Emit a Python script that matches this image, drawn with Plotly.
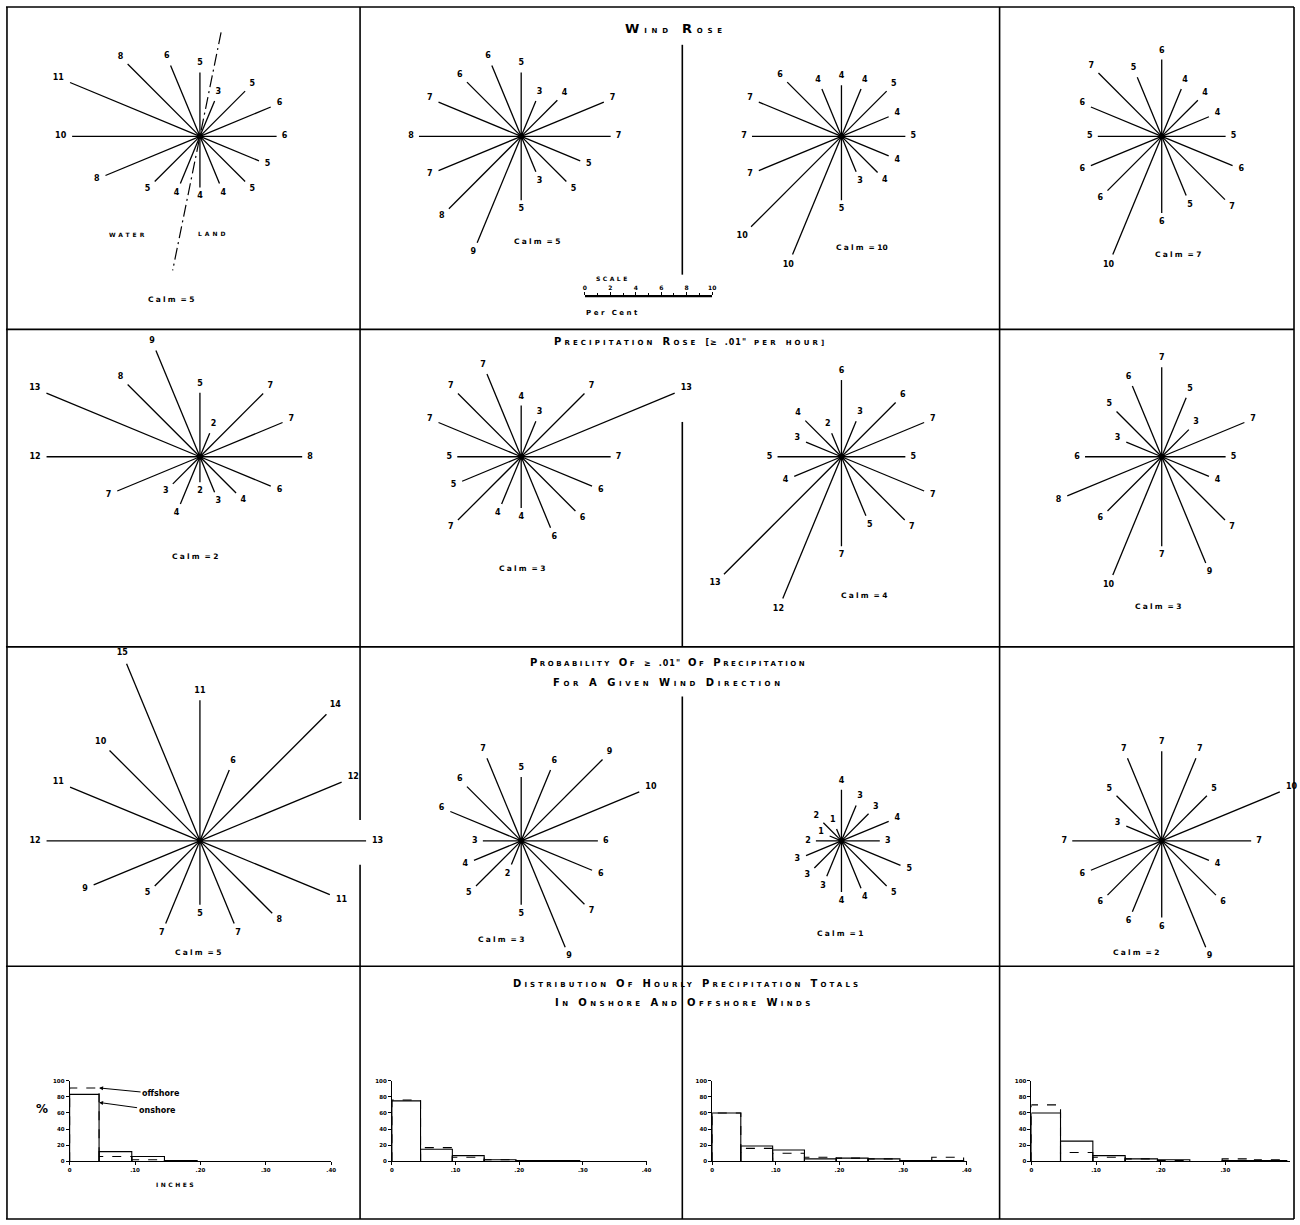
import math
import plotly.graph_objects as go

W, H = 1300, 1225
S = 12.85  # pixels per per cent on every rose

# ---------------- data ----------------
directions = ["N", "NNE", "NE", "ENE", "E", "ESE", "SE", "SSE",
              "S", "SSW", "SW", "WSW", "W", "WNW", "NW", "NNW"]
bearings = [22.5 * i for i in range(16)]

# Row 1: wind rose (per cent of hours)
wind_1 = [5, 3, 5, 6, 6, 5, 5, 4, 4, 4, 5, 8, 10, 11, 8, 6]
wind_2 = [5, 3, 4, 7, 7, 5, 5, 3, 5, 9, 8, 7, 8, 7, 6, 6]
wind_3 = [4, 4, 5, 4, 5, 4, 4, 3, 5, 10, 10, 7, 7, 7, 6, 4]
wind_4 = [6, 4, 4, 4, 5, 6, 7, 5, 6, 10, 6, 6, 5, 6, 7, 5]
wind_calm = [5, 5, 10, 7]

# Row 2: precipitation rose (>= .01" per hour)
precip_1 = [5, 2, 7, 7, 8, 6, 4, 3, 2, 4, 3, 7, 12, 13, 8, 9]
precip_2 = [4, 3, 7, 13, 7, 6, 6, 6, 4, 4, 7, 5, 5, 7, 7, 7]
precip_3 = [6, 3, 6, 7, 5, 7, 7, 5, 7, 12, 13, 4, 5, 3, 4, 2]
precip_4 = [7, 5, 3, 7, 5, 4, 7, 9, 7, 10, 6, 8, 6, 3, 5, 6]
precip_calm = [2, 3, 4, 3]

# Row 3: probability of >= .01" of precipitation for a given wind direction
prob_1 = [11, 6, 14, 12, 13, 11, 8, 7, 5, 7, 5, 9, 12, 11, 10, 15]
prob_2 = [5, 6, 9, 10, 6, 6, 7, 9, 5, 2, 5, 4, 3, 6, 6, 7]
prob_3 = [4, 3, 3, 4, 3, 5, 5, 4, 4, 3, 3, 3, 2, 1, 2, 1]
prob_4 = [7, 7, 5, 10, 7, 4, 6, 9, 6, 6, 6, 6, 7, 3, 5, 7]
prob_calm = [5, 3, 1, 2]

# Row 4: distribution of hourly precipitation totals (per cent)
hist_bins = [0.0, 0.045, 0.095, 0.145, 0.195, 0.245, 0.295, 0.345, 0.395]
onshore_1 = [83, 12, 6, 1, 0, 0, 0, 0]
offshore_1 = [91, 6, 2, 1, 0, 0, 0, 0]
onshore_2 = [75, 15, 7, 2, 1, 1, 0, 0]
offshore_2 = [76, 17, 5, 2, 1, 0, 0, 0]
onshore_3 = [60, 19, 14, 3, 4, 3, 1, 1]
offshore_3 = [60, 16, 10, 5, 4, 3, 0, 5]
onshore_4 = [60, 25, 7, 3, 2, 0, 1, 1]
offshore_4 = [70, 11, 5, 3, 1, 0, 3, 2]
hist_xticks = [0, 0.1, 0.2, 0.3, 0.4]
hist_xticktext = ["0", ".10", ".20", ".30", ".40"]
hist_yticks = [0, 20, 40, 60, 80, 100]

scale_ticks = [0, 2, 4, 6, 8, 10]

# coastline in the first wind rose (bearing, per-cent extent)
coast_bearings = [11.5, 191.5]
coast_extent = [8.3, 10.7]

# ---------------- layout geometry (pixels) ----------------
rose_cx = [199, 522, 844, 1166]
rose_cy = [134, 456, 842]
calm_px = [[(170, 298), (538, 240), (865, 246), (1183, 253)],
           [(195, 556), (523, 568), (867, 595), (1163, 606)],
           [(198, 954), (502, 941), (843, 935), (1141, 954)]]
hist_zero_px = [68, 392, 714, 1035]
hist_tenth_px = [65.75, 64.0, 64.0, 65.0]
hist_base_px, hist_top_px = 1164, 1083

FONT = "DejaVu Sans"
BLACK = "#000000"

fig = go.Figure()
layout_axes = {}
axis_count = [0]


def px2paper(x, y):
    return x / W, 1 - y / H


def new_axes(xdom, ydom, xr, yr):
    axis_count[0] += 1
    k = axis_count[0]
    sfx = "" if k == 1 else str(k)
    layout_axes["xaxis" + sfx] = dict(domain=xdom, range=xr, anchor="y" + sfx,
                                      visible=False, fixedrange=True)
    layout_axes["yaxis" + sfx] = dict(domain=ydom, range=yr, anchor="x" + sfx,
                                      visible=False, fixedrange=True)
    return "x" + sfx, "y" + sfx, sfx


def add_rose(cx, cy, values, coast=False):
    x0, x1 = max(0, cx - 240), min(W, cx + 240)
    y0, y1 = max(0, cy - 240), min(H, cy + 240)
    xa, ya, _ = new_axes([x0 / W, x1 / W], [1 - y1 / H, 1 - y0 / H],
                         [(x0 - cx) / S, (x1 - cx) / S], [(cy - y1) / S, (cy - y0) / S])
    lx, ly, tx, ty, tt = [], [], [], [], []
    for b, v in zip(bearings, values):
        sb, cb = math.sin(math.radians(b)), math.cos(math.radians(b))
        lx += [0, v * sb, None]
        ly += [0, v * cb, None]
        lab = str(v)
        hw = 3.5 if len(lab) == 1 else 7.0
        off = (4.5 + hw * abs(sb) + 4.5 * abs(cb)) / S
        tx.append((v + off) * sb)
        ty.append((v + off) * cb)
        tt.append(lab)
    fig.add_trace(go.Scatter(x=lx, y=ly, mode="lines", xaxis=xa, yaxis=ya,
                             line=dict(color=BLACK, width=1.3), hoverinfo="skip",
                             showlegend=False))
    fig.add_trace(go.Scatter(x=[0], y=[0], mode="markers", xaxis=xa, yaxis=ya,
                             marker=dict(color=BLACK, size=6), hoverinfo="skip",
                             showlegend=False))
    fig.add_trace(go.Scatter(x=tx, y=ty, mode="text", text=tt, xaxis=xa, yaxis=ya,
                             textfont=dict(family=FONT, size=8, color=BLACK, weight="bold"),
                             cliponaxis=False, hoverinfo="skip", showlegend=False))
    if coast:
        cx_ = [r * math.sin(math.radians(b)) for b, r in zip(coast_bearings, coast_extent)]
        cy_ = [r * math.cos(math.radians(b)) for b, r in zip(coast_bearings, coast_extent)]
        fig.add_trace(go.Scatter(x=cx_, y=cy_, mode="lines", xaxis=xa, yaxis=ya,
                                 line=dict(color=BLACK, width=1.2, dash="12px,4px,2px,4px"),
                                 hoverinfo="skip", showlegend=False))


rose_rows = [[wind_1, wind_2, wind_3, wind_4],
             [precip_1, precip_2, precip_3, precip_4],
             [prob_1, prob_2, prob_3, prob_4]]
calm_rows = [wind_calm, precip_calm, prob_calm]

annotations = []


def text_ann(x, y, text, size=8, bold=True, xanchor="center", **kw):
    px, py = px2paper(x, y)
    annotations.append(dict(x=px, y=py, xref="paper", yref="paper", text=text,
                            showarrow=False, xanchor=xanchor, yanchor="middle",
                            font=dict(family=FONT, size=size, color=BLACK,
                                      weight="bold" if bold else "normal"), **kw))


def spaced(s, ls):
    return '<span style="letter-spacing:%.1fpx">%s</span>' % (ls, s)


for r, row in enumerate(rose_rows):
    for c, vals in enumerate(row):
        add_rose(rose_cx[c], rose_cy[r], vals, coast=(r == 0 and c == 0))
        cxp, cyp = calm_px[r][c]
        text_ann(cxp, cyp, spaced("Calm", 2.2) + "\u00a0=\u00a0" + str(calm_rows[r][c]), size=7.5)

# ---------------- histograms ----------------
hist_data = [(onshore_1, offshore_1), (onshore_2, offshore_2),
             (onshore_3, offshore_3), (onshore_4, offshore_4)]
hist_axes = []
for i, (on, off) in enumerate(hist_data):
    x0 = hist_zero_px[i]
    x1 = x0 + 4 * hist_tenth_px[i]
    xa, ya, sfx = new_axes([x0 / W, x1 / W], [1 - hist_base_px / H, 1 - hist_top_px / H],
                           [0, 0.4], [0, 100])
    hist_axes.append((xa, ya))
    nt = 5 if i < 3 else 4
    layout_axes["xaxis" + sfx].update(
        visible=True, showline=True, linecolor=BLACK, linewidth=1, ticks="outside",
        ticklen=3, tickcolor=BLACK, tickvals=hist_xticks[:nt], ticktext=hist_xticktext[:nt],
        tickfont=dict(family=FONT, size=5.5, color=BLACK, weight="bold"), showgrid=False,
        zeroline=False)
    layout_axes["yaxis" + sfx].update(
        visible=True, showline=True, linecolor=BLACK, linewidth=1, ticks="outside",
        ticklen=3, tickcolor=BLACK, tickvals=hist_yticks,
        tickfont=dict(family=FONT, size=5.5, color=BLACK, weight="bold"), showgrid=False,
        zeroline=False)
    for series, dash in ((off, "dash"), (on, "solid")):
        bx, by = [], []
        for k, v in enumerate(series):
            if v <= 0:
                continue
            e0, e1 = hist_bins[k], hist_bins[k + 1]
            bx += [e0, e0, e1, e1, None]
            by += [0, v, v, 0, None]
        fig.add_trace(go.Scatter(x=bx, y=by, mode="lines", xaxis=xa, yaxis=ya,
                                 line=dict(color=BLACK, width=1.1, dash=dash),
                                 hoverinfo="skip", showlegend=False, cliponaxis=False))

# legend arrows in first histogram
xa1, ya1 = hist_axes[0]
annotations.append(dict(x=hist_bins[1], y=offshore_1[0], xref=xa1, yref=ya1,
                        text="offshore", showarrow=True, ax=62, ay=6, arrowhead=2,
                        arrowsize=0.8, arrowwidth=1, arrowcolor=BLACK, xanchor="center",
                        font=dict(family=FONT, size=8, color=BLACK, weight="bold")))
annotations.append(dict(x=hist_bins[1], y=onshore_1[0] - 10, xref=xa1, yref=ya1,
                        text="onshore", showarrow=True, ax=58, ay=8, arrowhead=2,
                        arrowsize=0.8, arrowwidth=1, arrowcolor=BLACK, xanchor="center",
                        font=dict(family=FONT, size=8, color=BLACK, weight="bold")))
text_ann(40, 1111, "%", size=12)
text_ann(175, 1187, spaced("INCHES", 2.5), size=6)

# ---------------- scale bar ----------------
xa, ya, sfx = new_axes([586 / W, 714 / W], [1 - 297 / H, 1 - 295 / H], [0, 10], [0, 1])
layout_axes["xaxis" + sfx].update(
    visible=True, side="top", showline=True, linecolor=BLACK, linewidth=1.2,
    ticks="outside", ticklen=3, tickcolor=BLACK, tickvals=scale_ticks,
    tickfont=dict(family=FONT, size=6, color=BLACK, weight="bold"), showgrid=False,
    zeroline=False, minor=dict(ticks="outside", tickvals=[1, 3, 5, 7, 9], ticklen=2,
                               tickcolor=BLACK))
fig.add_trace(go.Scatter(x=[0, 10], y=[1, 1], mode="lines", xaxis=xa, yaxis=ya,
                         line=dict(color=BLACK, width=1.2), hoverinfo="skip",
                         showlegend=False, cliponaxis=False))
text_ann(614, 277, spaced("SCALE", 2.5), size=6)
text_ann(614, 312, spaced("Per", 2.5) + "\u00a0\u00a0" + spaced("Cent", 2.5), size=7)

text_ann(127, 233, spaced("WATER", 3), size=6)
text_ann(212, 232, spaced("LAND", 3), size=6)


# ---------------- titles (small caps) ----------------
def small_caps(text, big, small, ls):
    parts = []
    for word in text.split(" "):
        if word[0].isalpha():
            first = word[0] if word[0].isupper() else ""
            rest = word[1:] if first else word
            s = ""
            if first:
                s += '<span style="font-size:%dpx;letter-spacing:%.1fpx">%s</span>' % (big, ls, first)
            if rest:
                s += '<span style="font-size:%dpx;letter-spacing:%.1fpx">%s</span>' % (small, ls, rest.upper())
        else:
            s = '<span style="font-size:%dpx;letter-spacing:1px">%s</span>' % (big - 2, word)
        parts.append(s)
    return "\u00a0\u00a0".join(parts)


titles = [("Wind Rose", 678, 26, 13, 7, 4.8),
          ("Precipitation Rose [\u2265 .01\" per hour]", 692, 340, 10, 7, 3.1),
          ("Probability Of \u2265 .01\" Of Precipitation", 670, 663, 10, 7, 2.5),
          ("For A Given Wind Direction", 670, 683, 10, 7, 3.6),
          ("Distribution Of Hourly Precipitation Totals", 689, 985, 10, 7, 3.1),
          ("In Onshore And Offshore Winds", 686, 1004, 10, 7, 3.4)]
for t, x, y, big, small, ls in titles:
    text_ann(x, y, small_caps(t, big, small, ls), size=big)

# ---------------- frame ----------------
frame_segments = [
    (4, 4, 1299, 4), (4, 1222, 1299, 1222), (5, 4, 5, 1222), (1299, 4, 1299, 1222),
    (4, 328, 1299, 328), (4, 647, 1299, 647), (4, 968, 1299, 968),
    (360, 4, 360, 647), (360, 647, 360, 821), (360, 866, 360, 968), (360, 968, 360, 1222),
    (1003, 4, 1003, 1222),
    (684, 42, 684, 273), (684, 421, 684, 647), (684, 697, 684, 968), (684, 968, 684, 1222),
]
shapes = []
for x0, y0, x1, y1 in frame_segments:
    a, b = px2paper(x0, y0)
    c, d = px2paper(x1, y1)
    shapes.append(dict(type="line", xref="paper", yref="paper", x0=a, y0=b, x1=c, y1=d,
                       line=dict(color=BLACK, width=1.6)))

fig.update_layout(
    width=W, height=H, margin=dict(l=0, r=0, t=0, b=0),
    paper_bgcolor="white", plot_bgcolor="rgba(0,0,0,0)",
    showlegend=False, annotations=annotations, shapes=shapes,
    **layout_axes)

fig.write_html("out.html", config={"displayModeBar": False, "staticPlot": True},
               post_script="document.documentElement.style.margin='0px';"
                           "document.body.style.margin='0px';"
                           "document.documentElement.style.overflow='hidden';"
                           "document.body.style.overflow='hidden';")
